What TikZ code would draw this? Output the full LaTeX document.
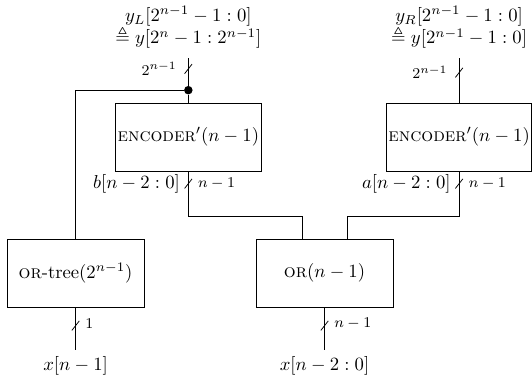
\documentclass[tikz,border=0pt]{standalone}
\usepackage{amsmath}
\usepackage{amssymb}
\usetikzlibrary{positioning, calc}
\tikzset{
	blk/.style    ={rectangle, draw=black, minimum height=1.28cm, inner sep=1pt, align=center},
	encblk/.style ={blk, minimum width=2.71cm},
	orblk/.style  ={blk, minimum width=2.58cm},
	junct/.style  ={circle, fill=black, inner sep=0pt, minimum size=0.16cm},
	buslbl/.style ={font=\footnotesize, inner sep=2pt},
	% slash on a bus wire
	busmark/.style={thin},
}

\begin{document}
\begin{tikzpicture}
	\useasboundingbox (0,0) rectangle (10,7.125);
	\node[encblk] (encL) at (3.54,4.55) {\textsc{encoder}$'(n-1)$};
	\node[encblk] (encR) at (8.63,4.55) {\textsc{encoder}$'(n-1)$};
	\node[orblk] (ortree) at (1.42,1.99) {\textsc{or}-tree$(2^{n-1})$};
	\node[orblk] (orn) at (6.10,1.99) {\textsc{or}$(n-1)$};
	\node[junct] (dot) at (3.54,5.43) {};
	\coordinate (yL) at (3.54,6.03);
	\coordinate (yR) at (8.63,6.03);
	\coordinate (mB) at (5.68,3.06);
	\coordinate (mA) at (6.52,3.06);
	\node[align=center] (yLtxt) at (3.54,6.61) {$y_L[2^{n-1}-1:0]$\\$\triangleq y[2^n-1:2^{n-1}]$};
	\node[align=center] (yRtxt) at (8.63,6.61) {$y_R[2^{n-1}-1:0]$\\$\triangleq y[2^{n-1}-1:0]$};
	\node (xH) at (1.42,0.24) {$x[n-1]$};
	\node (xL) at (6.10,0.24) {$x[n-2:0]$};

	\draw (encL.north) -- (dot) -- (yL);
	\draw (dot) -| (ortree.north);
	\draw (encR.north) -- (yR);
	\draw (encL.south) |- (mB) -- (mB |- orn.north);
	\draw (encR.south) |- (mA) -- (mA |- orn.north);
	\draw (ortree.south) -- (xH);
	\draw (orn.south) -- (xL);

	\coordinate (tL) at ($(yL)+(0,-0.2)$);
	\coordinate (tR) at ($(yR)+(0,-0.27)$);
	\coordinate (tb) at ($(encL.south)+(0,-0.23)$);
	\coordinate (ta) at ($(encR.south)+(0,-0.23)$);
	\coordinate (t1) at ($(ortree.south)+(0,-0.34)$);
	\coordinate (tx) at ($(orn.south)+(0,-0.34)$);
	\foreach \t in {tL,tR,tb,ta,t1,tx}
		\draw[busmark] (\t) ++(-0.07,-0.09) -- ++(0.14,0.18);

	\node[buslbl, left=4pt of tL] (wL) {$2^{n-1}$};
	\node[buslbl, left=4pt of tR] (wR) {$2^{n-1}$};
	\node[left=1pt of tb] (bLbl) {$b[n-2:0]$};
	\node[buslbl, right=3pt of tb] (wb) {$n-1$};
	\node[left=1pt of ta] (aLbl) {$a[n-2:0]$};
	\node[buslbl, right=3pt of ta] (wa) {$n-1$};
	\node[buslbl, right=3pt of t1, yshift=1pt] (w1) {$1$};
	\node[buslbl, right=3pt of tx, yshift=1pt] (wx) {$n-1$};
\end{tikzpicture}
\end{document}
